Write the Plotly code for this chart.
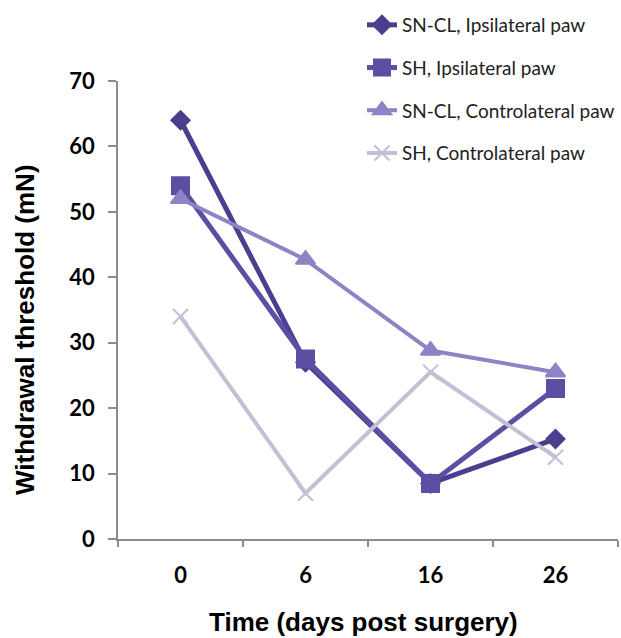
import plotly.graph_objects as go

days = ["0", "6", "16", "26"]
sncl_ipsi = [64, 27, 8.5, 15.3]
sh_ipsi = [54, 27.5, 8.5, 23]
sncl_contra = [52, 42.7, 28.8, 25.5]
sh_contra = [34, 7, 25.5, 12.5]
y_ticks = [0, 10, 20, 30, 40, 50, 60, 70]
x_title = "Time (days post surgery)"
y_title = "Withdrawal threshold (mN)"

series = [
    ("SN-CL, Ipsilateral paw", sncl_ipsi, "#4a3e8e", "diamond", 14, 5),
    ("SH, Ipsilateral paw", sh_ipsi, "#5b4ea3", "square", 17, 5),
    ("SN-CL, Controlateral paw", sncl_contra, "#8c84c4", "triangle-up", 17, 4),
    ("SH, Controlateral paw", sh_contra, "#c3c0d6", "x-thin", 15, 4),
]

fig = go.Figure()
for i, (name, vals, col, sym, ms, lw) in enumerate(series):
    fig.add_trace(go.Scatter(
        x=days, y=vals, name=name, mode="lines+markers",
        legendgroup=f"g{i}",
        line=dict(color=col, width=lw),
        marker=dict(symbol=sym, size=ms, color=col,
                    line=dict(color=col, width=2)),
    ))

title_font = dict(family="Liberation Sans", size=26, color="black", weight="bold")

fig.update_layout(
    width=621, height=638,
    margin=dict(l=118, r=3, t=81, b=99, autoexpand=False),
    paper_bgcolor="white", plot_bgcolor="white",
    showlegend=True,
    legend=dict(
        x=362 / 621, xref="container", xanchor="left",
        yref="container", y=1 - 6 / 638, yanchor="top",
        font=dict(family="Lato", size=19, color="#222"),
        tracegroupgap=15, traceorder="grouped",
        bgcolor="rgba(0,0,0,0)", itemwidth=30,
    ),
    xaxis=dict(
        type="category", range=[-0.5, 3.5], tickson="boundaries",
        showline=True, linecolor="#8c8c8c", linewidth=1.5,
        ticks="outside", ticklen=6, tickcolor="#8c8c8c", tickwidth=1.5,
        ticklabelstandoff=16,
        tickfont=dict(family="Lato", size=22, color="black", weight="bold"),
        showgrid=False, zeroline=False,
    ),
    yaxis=dict(
        range=[0, 70], tickvals=y_ticks, ticktext=[str(v) for v in y_ticks],
        showline=True, linecolor="#8c8c8c", linewidth=1.5,
        ticks="outside", ticklen=8, tickcolor="#8c8c8c", tickwidth=1.5,
        ticklabelstandoff=9,
        tickfont=dict(family="Lato", size=22, color="black", weight="bold"),
        showgrid=False, zeroline=False,
    ),
    annotations=[
        dict(text=x_title, xref="paper", yref="paper",
             x=(363 - 118) / 500, y=-(622 - 539) / 458,
             xanchor="center", yanchor="middle", showarrow=False, font=title_font),
        dict(text=y_title, xref="paper", yref="paper", textangle=-90,
             x=-(118 - 25) / 500, y=(539 - 330) / 458,
             xanchor="center", yanchor="middle", showarrow=False, font=title_font),
    ],
)

fig.write_html("out.html")
